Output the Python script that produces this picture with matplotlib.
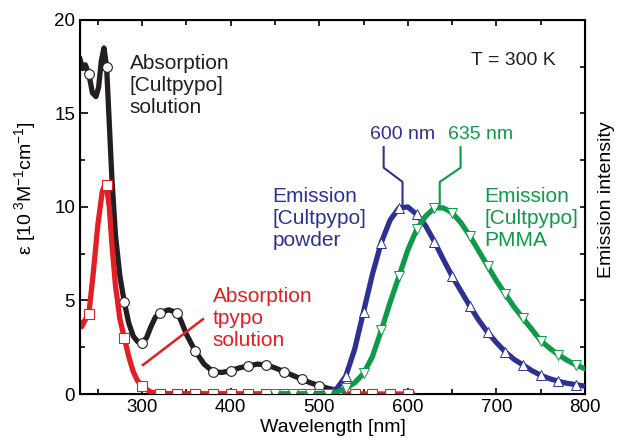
import matplotlib
matplotlib.use("Agg")
import matplotlib.pyplot as plt
from matplotlib.ticker import MultipleLocator

plt.rcParams["font.family"] = ["Liberation Sans", "DejaVu Sans"]
plt.rcParams["mathtext.fontset"] = "custom"
plt.rcParams["mathtext.rm"] = "Liberation Sans"
plt.rcParams["mathtext.it"] = "Liberation Sans:italic"
plt.rcParams["mathtext.bf"] = "Liberation Sans:bold"

# absorption, [Cultpypo] solution (line, markers every 20 nm)
wl_cu = [230, 233, 236, 240, 244, 248, 251, 254, 257, 260, 263, 266, 270, 275, 280, 285,
         290, 295, 300, 305, 310, 315, 320, 330, 340, 345, 350, 360, 370, 380, 390, 400,
         410, 420, 430, 440, 450, 460, 470, 480, 490, 500, 510, 515]
eps_cu = [17.9, 17.4, 17.6, 17.1, 16.1, 15.9, 16.4, 17.8, 18.5, 17.5, 14.5, 11.5, 8.5, 6.3,
          4.9, 3.8, 3.1, 2.8, 2.75, 3.0, 3.6, 4.1, 4.35, 4.5, 4.35, 3.8, 3.2, 2.3, 1.6, 1.2,
          1.15, 1.25, 1.4, 1.5, 1.6, 1.55, 1.4, 1.2, 1.0, 0.8, 0.6, 0.45, 0.3, 0.25]
wl_cu_pts = [240, 260, 280, 300, 320, 340, 360, 380, 400, 420, 440, 460, 480, 500]
eps_cu_pts = [17.1, 17.5, 4.9, 2.75, 4.35, 4.35, 2.3, 1.2, 1.25, 1.5, 1.55, 1.2, 0.8, 0.45]

# absorption, tpypo solution
wl_tp = [230, 232, 235, 240, 245, 250, 255, 258, 260, 263, 266, 270, 275, 280, 285, 290,
         295, 300, 305, 310, 320, 600, 605]
eps_tp = [3.8, 3.6, 3.9, 4.3, 6.5, 9.0, 10.8, 11.2, 11.1, 10.0, 8.0, 5.8, 4.0, 3.0, 2.0,
          1.2, 0.7, 0.45, 0.25, 0.1, 0.02, 0.0, 0.0]
wl_tp_pts = [240, 260, 280, 300, 320, 340, 360, 380, 400, 420, 440, 460, 480, 500, 520,
             540, 560, 580, 600]
eps_tp_pts = [4.3, 11.2, 3.0, 0.45, 0, 0, 0, 0, 0, 0, 0, 0, 0, 0, 0, 0, 0, 0, 0]

# emission, scaled to peak 10
wl_em = [450, 470, 490, 510, 520, 530, 540, 550, 560, 570, 580, 590, 600, 610, 620, 630,
         640, 650, 660, 670, 680, 690, 700, 710, 720, 730, 740, 750, 760, 770, 780, 790, 800]
em_powder = [0, 0, 0, 0.05, 0.3, 0.96, 2.4, 4.4, 6.4, 8.1, 9.3, 9.95, 10.0, 9.6, 9.0, 8.15,
             7.2, 6.3, 5.5, 4.7, 3.95, 3.3, 2.75, 2.25, 1.85, 1.55, 1.25, 1.0, 0.82, 0.68,
             0.57, 0.5, 0.42]
em_pmma = [0, 0, 0, 0, 0.1, 0.3, 0.6, 1.1, 2.0, 3.4, 4.9, 6.3, 7.7, 8.8, 9.5, 9.95, 9.95,
           9.7, 9.15, 8.45, 7.65, 6.85, 6.05, 5.35, 4.65, 4.05, 3.45, 2.85, 2.45, 2.1, 1.8,
           1.55, 1.35]
wl_em_pts = [450, 470, 490, 510, 530, 550, 570, 590, 610, 630, 650, 670, 690, 710, 730,
             750, 770, 790]
em_powder_pts = [0, 0, 0, 0.05, 0.96, 4.4, 8.1, 9.95, 9.6, 8.15, 6.3, 4.7, 3.3, 2.25,
                 1.55, 1.0, 0.68, 0.5]
em_pmma_pts = [0, 0, 0, 0, 0.3, 1.1, 3.4, 6.3, 8.8, 9.95, 9.7, 8.45, 6.85, 5.35, 4.05,
               2.85, 2.1, 1.55]

c_black = "#231f20"
c_red = "#e31e24"
c_blue = "#2e3192"
c_green = "#0e9a48"

fig = plt.figure(figsize=(6.17, 4.48), dpi=100)
ax = fig.add_axes([0.1297, 0.1205, 0.8185, 0.835])

ax.plot(wl_cu, eps_cu, color=c_black, lw=3.8, zorder=2)
ax.plot(wl_cu_pts, eps_cu_pts, "o", ms=7, mfc="white", mec=c_black, mew=0.8, zorder=3)
ax.plot(wl_tp, eps_tp, color=c_red, lw=3.8, zorder=4)
ax.plot(wl_tp_pts, eps_tp_pts, "s", ms=6.5, mfc="white", mec=c_red, mew=0.8, zorder=5)
ax.plot(wl_em, em_powder, color=c_blue, lw=3.8, zorder=6)
ax.plot(wl_em_pts, em_powder_pts, "^", ms=6.5, mfc="white", mec=c_blue, mew=0.7, zorder=7)
ax.plot(wl_em, em_pmma, color=c_green, lw=3.8, zorder=8)
ax.plot(wl_em_pts, em_pmma_pts, "v", ms=6.5, mfc="white", mec=c_green, mew=0.7, zorder=9)

ax.set_xlim(230, 800)
ax.set_ylim(0, 20)
ax.xaxis.set_major_locator(MultipleLocator(100))
ax.xaxis.set_minor_locator(MultipleLocator(50))
ax.yaxis.set_major_locator(MultipleLocator(5))
ax.yaxis.set_minor_locator(MultipleLocator(2.5))
ax.tick_params(which="both", direction="in", top=True, labelsize=13.5, width=1.2)
ax.tick_params(which="major", length=6)
ax.tick_params(which="minor", length=3.5)
ax.tick_params(axis="x", which="major", length=4.5)
for s in ax.spines.values():
    s.set_linewidth(1.5)

ax.set_xlabel("Wavelength [nm]", fontsize=14, labelpad=2)
ax.set_ylabel(r"ε [10$^{\ 3}$M$^{-1}$cm$^{-1}$]", fontsize=14)
ax.yaxis.set_label_coords(-0.083, 0.55)

ax2 = ax.twinx()
ax2.set_ylim(0, 20)
ax2.yaxis.set_major_locator(MultipleLocator(2.5))
ax2.tick_params(direction="in", length=3.5, width=1.2, labelright=False)
ax2.set_ylabel("Emission intensity", fontsize=14, labelpad=9)
ax2.yaxis.set_label_coords(1.025, 0.52)

ax.text(286, 16.5, "Absorption\n[Cultpypo]\nsolution", fontsize=15, color=c_black,
        va="center", ha="left", linespacing=1.2)
ax.text(719, 17.85, "T = 300 K", fontsize=14, color=c_black, va="center", ha="center")
ax.text(380, 4.05, "Absorption\ntpypo\nsolution", fontsize=15, color=c_red,
        va="center", ha="left", linespacing=1.2)
ax.plot([301, 368.7], [1.55, 4.0], color=c_red, lw=1.8)
ax.text(447.5, 9.4, "Emission\n[Cultpypo]\npowder", fontsize=15, color=c_blue,
        va="center", ha="left", linespacing=1.2)
ax.text(686.5, 9.4, "Emission\n[Cultpypo]\nPMMA", fontsize=15, color=c_green,
        va="center", ha="left", linespacing=1.2)

ax.text(594, 13.9, "600 nm", fontsize=14, color=c_blue, va="center", ha="center")
ax.plot([572.7, 572.7, 594, 594], [13.2, 12.1, 11.34, 10.1], color=c_blue, lw=1.5)
ax.text(682, 13.9, "635 nm", fontsize=14, color=c_green, va="center", ha="center")
ax.plot([659.5, 659.5, 636, 636], [13.2, 12.1, 11.34, 10.1], color=c_green, lw=1.5)

fig.savefig("out.png", dpi=100)
